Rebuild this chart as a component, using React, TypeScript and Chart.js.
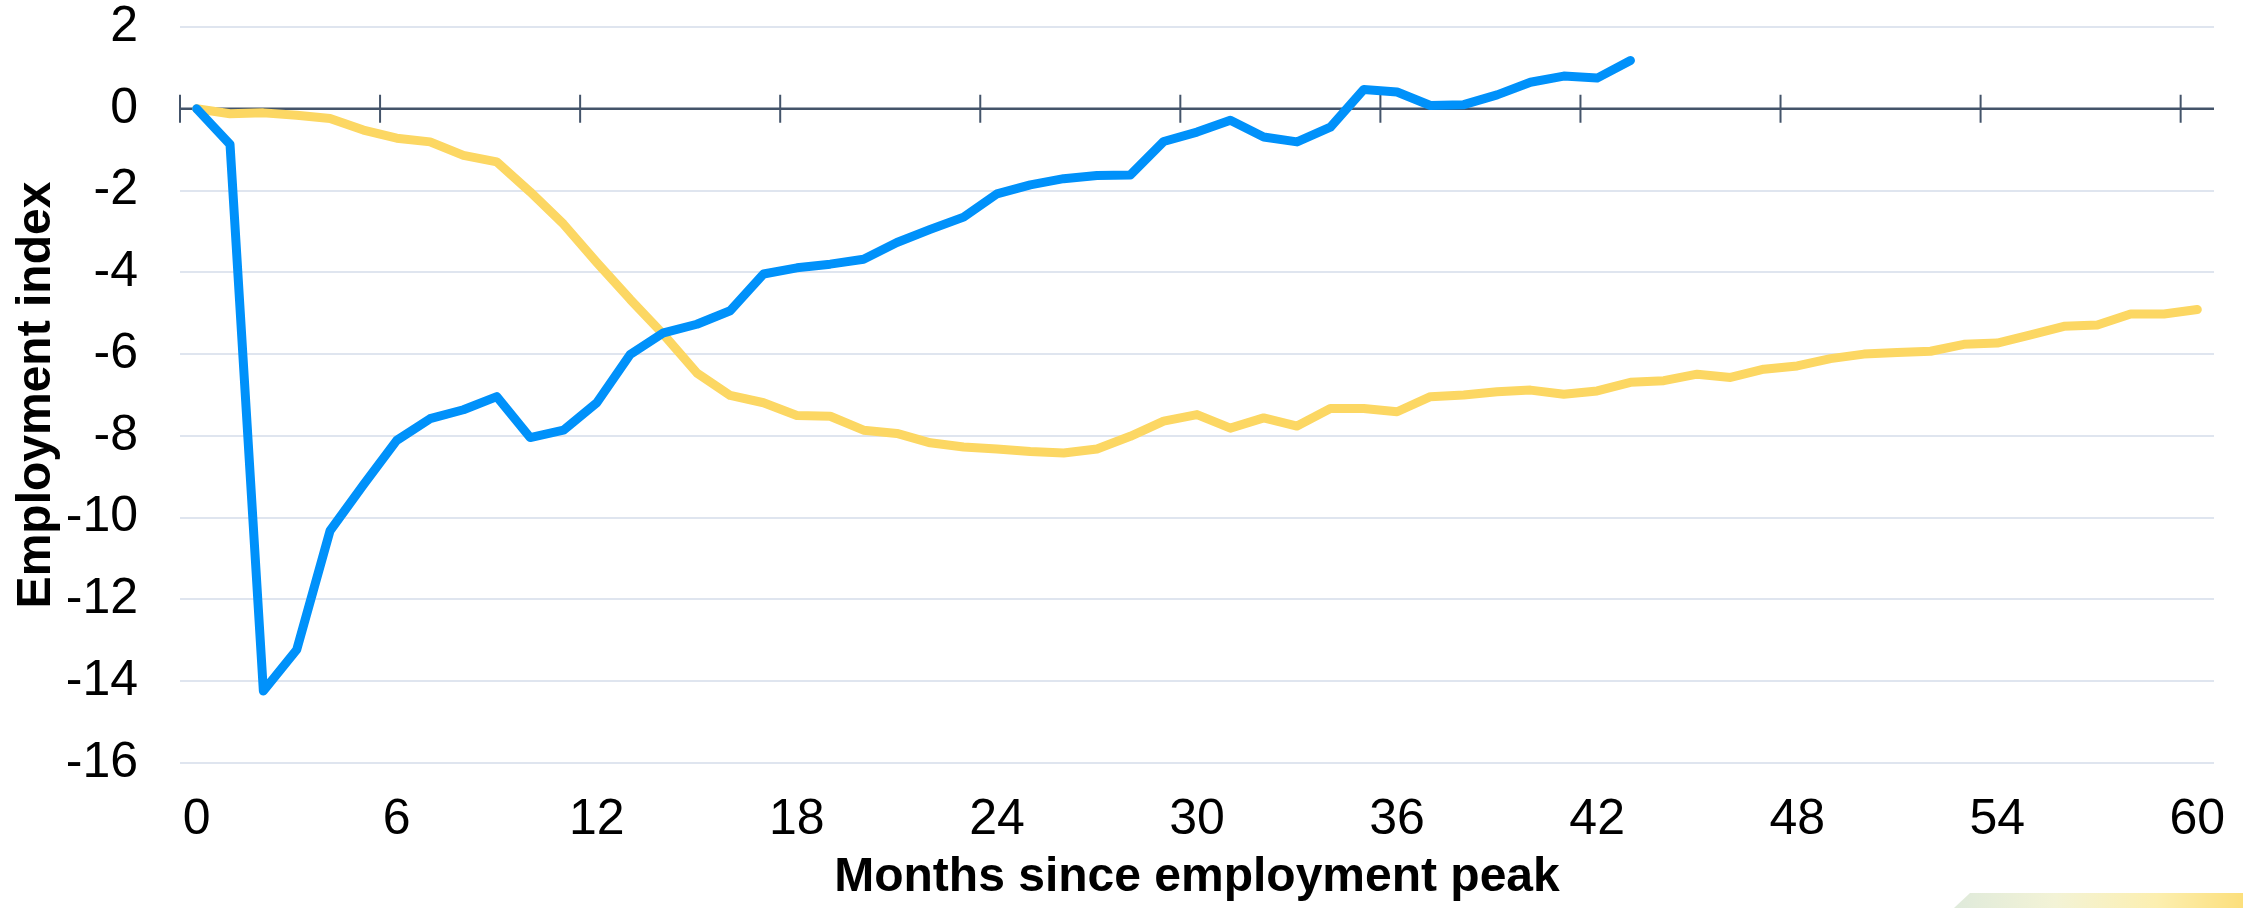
import React, { useEffect, useRef } from 'react';
import { Chart, registerables } from 'chart.js';

Chart.register(...registerables);

// ---------- data ----------
const months: string[] = [
  '0', '1', '2', '3', '4', '5', '6', '7', '8', '9',
  '10', '11', '12', '13', '14', '15', '16', '17', '18', '19',
  '20', '21', '22', '23', '24', '25', '26', '27', '28', '29',
  '30', '31', '32', '33', '34', '35', '36', '37', '38', '39',
  '40', '41', '42', '43', '44', '45', '46', '47', '48', '49',
  '50', '51', '52', '53', '54', '55', '56', '57', '58', '59', '60',
];

const tickLabels: string[] = ['0', '6', '12', '18', '24', '30', '36', '42', '48', '54', '60'];

const blueSeries: number[] = [
  0, -0.87, -14.24, -13.23, -10.32, -9.2, -8.11, -7.58, -7.36, -7.04,
  -8.04, -7.86, -7.19, -6.01, -5.48, -5.27, -4.94, -4.04, -3.89, -3.8,
  -3.68, -3.27, -2.95, -2.65, -2.08, -1.86, -1.71, -1.63, -1.62, -0.8,
  -0.57, -0.28, -0.69, -0.81, -0.45, 0.47, 0.41, 0.08, 0.1, 0.34,
  0.65, 0.8, 0.75, 1.18,
];

const yellowSeries: number[] = [
  0, -0.12, -0.1, -0.16, -0.24, -0.52, -0.72, -0.81, -1.14, -1.3,
  -2.03, -2.82, -3.76, -4.66, -5.52, -6.46, -7.01, -7.19, -7.5, -7.52,
  -7.86, -7.94, -8.17, -8.27, -8.32, -8.38, -8.42, -8.32, -8.01, -7.64,
  -7.48, -7.81, -7.56, -7.76, -7.33, -7.33, -7.41, -7.04, -7.0, -6.92,
  -6.88, -6.98, -6.9, -6.69, -6.65, -6.49, -6.57, -6.37, -6.29, -6.11,
  -6.0, -5.96, -5.93, -5.76, -5.73, -5.53, -5.32, -5.29, -5.02, -5.02, -4.91,
];

const yMin = -16;
const yMax = 2;
const yStep = 2;

// ---------- styles ----------
const BLUE = '#0091FA';
const YELLOW = '#FCD763';
const AXIS = '#44546A';
const GRID = '#DFE5EF';
const FONT = '"Liberation Sans", Arial, Helvetica, sans-serif';

const zeroAxisPlugin = {
  id: 'zeroAxis',
  beforeDatasetsDraw(chart: any) {
    const { ctx, chartArea, scales } = chart;
    const x = scales.x;
    const y = scales.y;
    const y0 = y.getPixelForValue(0);
    ctx.save();
    ctx.strokeStyle = AXIS;
    ctx.lineWidth = 2.5;
    ctx.beginPath();
    ctx.moveTo(chartArea.left, y0);
    ctx.lineTo(chartArea.right, y0);
    ctx.stroke();
    ctx.lineWidth = 2;
    ctx.beginPath();
    for (const lbl of tickLabels) {
      const idx = months.indexOf(lbl);
      const px = x.getPixelForValue(idx - 0.5);
      ctx.moveTo(px, y0 - 14);
      ctx.lineTo(px, y0 + 14);
    }
    ctx.stroke();
    ctx.restore();
  },
};

export default function App() {
  const canvasRef = useRef<HTMLCanvasElement | null>(null);

  useEffect(() => {
    document.body.style.margin = '0';
    const canvas = canvasRef.current;
    if (!canvas) return;
    const chart = new Chart(canvas, {
      type: 'line',
      data: {
        labels: months,
        datasets: [
          {
            label: 'Blue',
            data: blueSeries,
            borderColor: BLUE,
            backgroundColor: BLUE,
            borderWidth: 9,
            pointRadius: 0,
            borderJoinStyle: 'round',
            borderCapStyle: 'round',
            tension: 0,
            fill: false,
          },
          {
            label: 'Yellow',
            data: yellowSeries,
            borderColor: YELLOW,
            backgroundColor: YELLOW,
            borderWidth: 9,
            pointRadius: 0,
            borderJoinStyle: 'round',
            borderCapStyle: 'round',
            tension: 0,
            fill: false,
          },
        ],
      },
      options: {
        animation: false,
        responsive: true,
        maintainAspectRatio: false,
        devicePixelRatio: 1,
        layout: { padding: { left: 0, right: 29, top: 27, bottom: 0 } },
        plugins: {
          legend: { display: false },
          tooltip: { enabled: false },
        },
        scales: {
          x: {
            type: 'category',
            offset: true,
            grid: {
              display: true,
              drawOnChartArea: false,
              drawTicks: true,
              tickLength: 32,
              tickColor: 'rgba(0,0,0,0)',
            },
            border: { display: false },
            ticks: {
              autoSkip: false,
              maxRotation: 0,
              minRotation: 0,
              padding: 0,
              color: '#000',
              font: { family: FONT, size: 50, lineHeight: 1 },
              callback: function (this: any, _val: any, index: number) {
                const lbl = months[index];
                return tickLabels.includes(lbl) ? lbl : '';
              },
            },
            title: {
              display: true,
              text: 'Months since employment peak',
              color: '#000',
              font: { family: FONT, size: 48, weight: 'bold', lineHeight: 1.2 },
              padding: { top: 0, bottom: 1 },
            },
            afterFit: (scale: any) => {
              scale.height = 145;
            },
          },
          y: {
            min: yMin,
            max: yMax,
            grid: {
              color: GRID,
              lineWidth: 2,
              drawTicks: true,
              tickLength: 42,
              tickColor: 'rgba(0,0,0,0)',
            },
            border: { display: false },
            ticks: {
              stepSize: yStep,
              padding: 0,
              color: '#000',
              font: { family: FONT, size: 50, lineHeight: 1 },
            },
            title: {
              display: true,
              text: 'Employment index',
              color: '#000',
              font: { family: FONT, size: 48, weight: 'bold', lineHeight: 1.2 },
              padding: { top: 8, bottom: 0 },
            },
            afterFit: (scale: any) => {
              scale.width = 180;
            },
          },
        },
      },
      plugins: [zeroAxisPlugin],
    });
    return () => chart.destroy();
  }, []);

  return (
    <div style={{ position: 'relative', width: 2243, height: 908, background: '#fff', overflow: 'hidden' }}>
      <canvas ref={canvasRef} />
      <div
        style={{
          position: 'absolute',
          left: 1954,
          top: 893,
          width: 289,
          height: 15,
          clipPath: 'polygon(16px 0, 100% 0, 100% 100%, 0 100%)',
          background: 'linear-gradient(90deg, #dfeadb 0%, #f3f3d6 35%, #fcefb0 70%, #fcdf7c 100%)',
        }}
      />
    </div>
  );
}
